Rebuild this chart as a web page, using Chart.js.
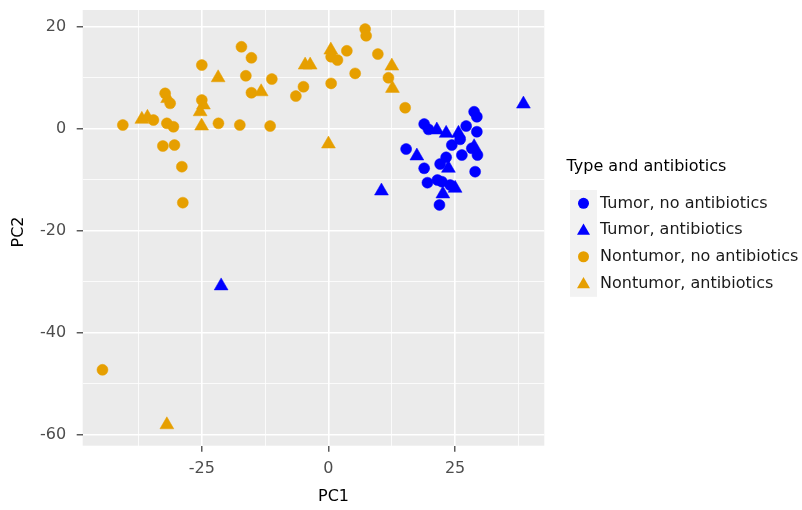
<!DOCTYPE html>
<html>
<head>
<meta charset="utf-8">
<script src="https://cdn.jsdelivr.net/npm/chart.js@4/dist/chart.umd.min.js"></script>
<style>
html,body{margin:0;padding:0;background:#ffffff;}
#wrap{width:802px;height:510px;position:relative;}
canvas{display:block;}
</style>
</head>
<body>
<div id="wrap"><canvas id="c" width="802" height="510" style="width:802px;height:510px;"></canvas></div>
<script>
// ---- data (PC1, PC2) ----
const seriesLabels = ["Tumor, no antibiotics", "Tumor, antibiotics", "Nontumor, no antibiotics", "Nontumor, antibiotics"];

const tumorNoAntibiotics = [
  [28.75, 3.33], [29.29, 2.35], [27.18, 0.53], [29.29, -0.59], [18.89, 0.92],
  [19.74, -0.12], [15.33, -3.98], [24.35, -3.2], [26.33, -5.16], [28.30, -3.84],
  [29.41, -5.16], [23.23, -5.61], [22.04, -6.92], [18.89, -7.76], [28.95, -8.43],
  [19.54, -10.59], [21.51, -10.06], [22.38, -10.39], [24.02, -11.04], [21.91, -14.96],
  [25.99, -2.08]
];

const tumorAntibiotics = [
  [21.39, -0.25], [23.23, -0.90], [25.66, -0.90], [28.75, -3.53], [17.45, -5.35],
  [23.68, -7.76], [25.0, -11.69], [22.58, -12.8], [38.48, 4.84], [10.46, -12.22],
  [-21.18, -30.84]
];

const nontumorNoAntibiotics = [
  [-40.58, 0.73], [-34.54, 1.71], [-31.89, 1.06], [-30.59, 0.39], [-32.23, 6.94],
  [-31.24, 4.98], [-32.68, -3.39], [-30.39, -3.2], [-28.93, -7.45], [-28.74, -14.51],
  [-24.99, 12.49], [-24.99, 5.63], [-21.71, 1.06], [-17.49, 0.73], [-17.17, 16.08],
  [-15.2, 13.92], [-16.3, 10.39], [-15.2, 7.06], [-11.17, 9.75], [-11.51, 0.53],
  [-6.43, 6.41], [-4.93, 8.24], [0.53, 14.12], [1.78, 13.47], [3.63, 15.29],
  [0.53, 8.9], [5.27, 10.86], [7.24, 19.55], [7.44, 18.24], [9.75, 14.65],
  [11.84, 10.0], [15.14, 4.12], [-44.6, -47.31]
];

const nontumorAntibiotics = [
  [-36.83, 1.84], [-35.72, 2.24], [-31.74, 5.92], [-21.77, 10.0], [-24.67, 4.65],
  [-25.32, 3.33], [-25.03, 0.53], [-13.28, 7.25], [-4.6, 12.49], [-3.61, 12.49],
  [0.47, 15.43], [0.0, -3.0], [12.51, 12.29], [12.63, 7.92], [-31.89, -58.1]
];

const xTickLabels = [-25, 0, 25];
const yTickLabels = [-60, -40, -20, 0, 20];
const xRange = [-48.5, 42.6];
const yRange = [-62.2, 23.3];

const legendTitle = "Type and antibiotics";
const xTitle = "PC1";
const yTitle = "PC2";

// ---- styles ----
const BLUE = "#0000FF";
const ORANGE = "#E69F00";
const FONT = "'DejaVu Sans', Verdana, sans-serif";

function withMinors(majors, range) {
  const step = majors[1] - majors[0];
  const vals = [];
  for (let i = -1; i < majors.length; i++) {
    const base = i < 0 ? majors[0] - step : majors[i];
    vals.push(base + step / 2);
  }
  return majors.concat(vals).filter(v => v >= range[0] && v <= range[1]).sort((a, b) => a - b);
}
const toPts = arr => arr.map(p => ({ x: p[0], y: p[1] }));

const seriesData = [tumorNoAntibiotics, tumorAntibiotics, nontumorNoAntibiotics, nontumorAntibiotics];
const seriesColor = [BLUE, BLUE, ORANGE, ORANGE];
const seriesShape = ["circle", "triangle", "circle", "triangle"];
const shapeRadius = { circle: 5.5, triangle: 8 };

const datasets = seriesData.map((d, i) => ({
  label: seriesLabels[i],
  data: toPts(d),
  pointStyle: seriesShape[i],
  pointRadius: shapeRadius[seriesShape[i]],
  pointHoverRadius: shapeRadius[seriesShape[i]],
  backgroundColor: seriesColor[i],
  borderColor: seriesColor[i],
  pointBorderWidth: 0.5
}));

function axisOpts(majors, range, isX) {
  const allVals = withMinors(majors, range);
  const isMajor = v => majors.some(m => Math.abs(m - v) < 1e-9);
  return {
    type: "linear",
    min: range[0],
    max: range[1],
    afterBuildTicks: axis => { axis.ticks = allVals.map(v => ({ value: v })); },
    afterFit: scale => {
      if (isX) {
        scale.height = 510 - 445.7;
        scale.paddingLeft = 0; scale.paddingRight = 0;
      } else {
        scale.width = 82.7;
        scale.paddingTop = 0; scale.paddingBottom = 0;
      }
    },
    border: { display: false },
    grid: {
      color: "#FFFFFF",
      lineWidth: ctx => (ctx.tick && isMajor(ctx.tick.value)) ? 1.6 : 0.8,
      drawTicks: true,
      tickLength: 6,
      tickWidth: 1.2,
      tickColor: ctx => (ctx.tick && isMajor(ctx.tick.value)) ? "#333333" : "rgba(0,0,0,0)"
    },
    ticks: {
      autoSkip: false,
      maxRotation: 0,
      minRotation: 0,
      padding: isX ? 8 : 10.5,
      color: "#4D4D4D",
      font: { family: FONT, size: 16 },
      callback: v => isMajor(v) ? String(v) : ""
    },
    title: { display: false }
  };
}

const panelBg = {
  id: "panelBg",
  beforeDraw(chart) {
    const a = chart.chartArea, c = chart.ctx;
    c.save();
    c.fillStyle = "#EBEBEB";
    c.fillRect(a.left, a.top, a.right - a.left, a.bottom - a.top);
    c.restore();
  }
};

function drawMarker(c, shape, x, y, r, color) {
  c.save();
  c.fillStyle = color;
  c.beginPath();
  if (shape === "circle") {
    c.arc(x, y, r, 0, Math.PI * 2);
  } else {
    let rad = 0;
    for (let k = 0; k < 3; k++) {
      const px = x + Math.sin(rad) * r, py = y - Math.cos(rad) * r;
      if (k === 0) c.moveTo(px, py); else c.lineTo(px, py);
      rad += 2 * Math.PI / 3;
    }
    c.closePath();
  }
  c.fill();
  c.restore();
}

const annotations = {
  id: "annotations",
  afterDraw(chart) {
    const c = chart.ctx;
    c.save();
    c.fillStyle = "#000000";
    c.font = "16px " + FONT;
    c.textAlign = "center";
    c.textBaseline = "middle";
    // axis titles
    c.fillText(xTitle, 333.5, 497);
    c.save();
    c.translate(18.5, 232);
    c.rotate(-Math.PI / 2);
    c.fillText(yTitle, 0, 0);
    c.restore();
    // legend
    c.textAlign = "left";
    c.fillText(legendTitle, 566.5, 167);
    const keyX = 570, keyY = 190, keyW = 27, rowH = 26.7;
    c.fillStyle = "#F2F2F2";
    c.fillRect(keyX, keyY, keyW, rowH * seriesLabels.length);
    seriesLabels.forEach((lab, i) => {
      const cy = keyY + rowH * (i + 0.5);
      const sh = seriesShape[i];
      drawMarker(c, sh, keyX + keyW / 2, cy + (sh === "triangle" ? 1 : 0), sh === "circle" ? 5.5 : 7.5, seriesColor[i]);
      c.fillStyle = "#1A1A1A";
      c.fillText(lab, 600, cy);
    });
    c.restore();
  }
};

new Chart(document.getElementById("c"), {
  type: "scatter",
  data: { datasets },
  options: {
    responsive: false,
    animation: false,
    devicePixelRatio: 1,
    layout: { padding: { left: 0, top: 10, right: 802 - 544.3, bottom: 0 } },
    plugins: { legend: { display: false }, tooltip: { enabled: false } },
    scales: {
      x: axisOpts(xTickLabels, xRange, true),
      y: axisOpts(yTickLabels, yRange, false)
    }
  },
  plugins: [panelBg, annotations]
});
</script>
</body>
</html>
